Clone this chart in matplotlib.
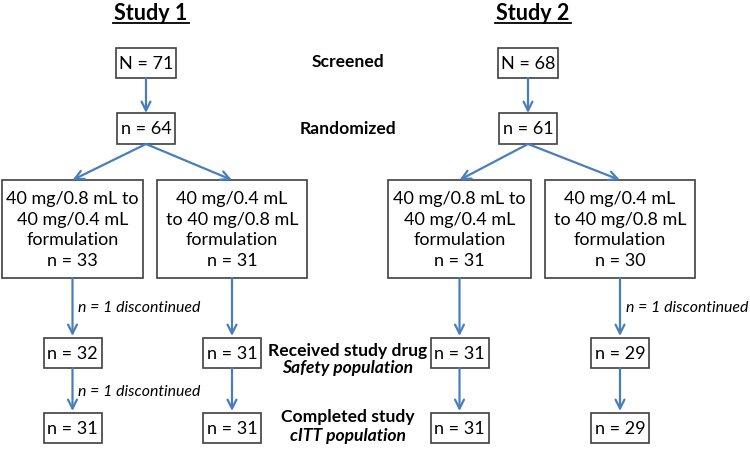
import matplotlib
matplotlib.use("Agg")
import matplotlib.pyplot as plt
from matplotlib.patches import Rectangle

plt.rcParams['font.family'] = ['Lato', 'DejaVu Sans']

# ---- data ----
studies = ["Study 1", "Study 2"]
screened = [71, 68]
randomized = [64, 61]
arm_labels = ["40 mg/0.8 mL to\n40 mg/0.4 mL\nformulation",
              "40 mg/0.4 mL\nto 40 mg/0.8 mL\nformulation"]
arm_n = [[33, 31], [31, 30]]
safety_n = [[32, 31], [31, 29]]
completed_n = [[31, 31], [31, 29]]
stage_bold = ["Screened", "Randomized", "Received study drug", "Completed study"]
stage_italic = [None, None, "Safety population", "cITT population"]

# ---- layout (pixels) ----
W, H = 750, 450
fig = plt.figure(figsize=(7.5, 4.5), dpi=100)
ax = fig.add_axes([0, 0, 1, 1])
ax.set_xlim(0, W)
ax.set_ylim(H, 0)
ax.axis('off')

EDGE = '#404040'
ARROW = '#4a7ebb'
FS = 13

study_cx = [146, 528]
arm_cx = [[72.5, 232], [459.5, 620]]
arm_w = [[141, 150], [143, 150]]
y_scr = (48, 78)
y_rand = (113, 144)
y_arm = (180, 278)
y_saf = (338, 368)
y_comp = (413, 443)
small_w = 58
top_w = 60


def box(cx, y0, y1, w, text, fs=FS, ls=1.0):
    ax.add_patch(Rectangle((cx - w / 2, y0), w, y1 - y0, fill=False,
                           edgecolor=EDGE, lw=1.2))
    ax.text(cx, (y0 + y1) / 2 + 1, text, ha='center', va='center',
            fontsize=fs, color='black', linespacing=ls)


def arrow(x0, y0, x1, y1):
    ax.annotate('', xy=(x1, y1), xytext=(x0, y0),
                arrowprops=dict(arrowstyle='->', color=ARROW, lw=1.6,
                                mutation_scale=16, shrinkA=0, shrinkB=0))


for s in range(2):
    cx = study_cx[s]
    ax.text(cx + 5, 13, studies[s], ha='center', va='center',
            fontsize=15.5, fontweight='bold')
    # underline
    ax.plot([cx - 33, cx + 43], [23, 23], color='black', lw=1.3)
    box(cx, *y_scr, top_w, f"N = {screened[s]}")
    arrow(cx, y_scr[1], cx, y_rand[0])
    box(cx, *y_rand, top_w - 2, f"n = {randomized[s]}")
    for a in range(2):
        ax_ = arm_cx[s][a]
        arrow(cx, y_rand[1], ax_, y_arm[0])
        box(ax_, *y_arm, arm_w[s][a],
            arm_labels[a] + f"\nn = {arm_n[s][a]}", ls=1.34)
        arrow(ax_, y_arm[1], ax_, y_saf[0] - 2)
        d1 = arm_n[s][a] - safety_n[s][a]
        if d1 > 0:
            ax.text(ax_ + 6, 308, f"n = {d1} discontinued", ha='left',
                    va='center', fontsize=11.4, style='italic')
        box(ax_, *y_saf, small_w, f"n = {safety_n[s][a]}")
        arrow(ax_, y_saf[1], ax_, y_comp[0] - 2)
        d2 = safety_n[s][a] - completed_n[s][a]
        if d2 > 0:
            ax.text(ax_ + 6, 392, f"n = {d2} discontinued", ha='left',
                    va='center', fontsize=11.4, style='italic')
        box(ax_, *y_comp, small_w, f"n = {completed_n[s][a]}")

label_x = 348
label_y = [(62, None), (129, None), (351, 368), (417, 436)]
for i in range(4):
    yb, yi = label_y[i]
    ax.text(label_x, yb, stage_bold[i], ha='center', va='center',
            fontsize=12.6, fontweight='bold')
    if stage_italic[i]:
        ax.text(label_x, yi, stage_italic[i], ha='center', va='center',
                fontsize=12.6, fontweight='bold', style='italic')

fig.savefig('out.png', dpi=100, facecolor='white')
